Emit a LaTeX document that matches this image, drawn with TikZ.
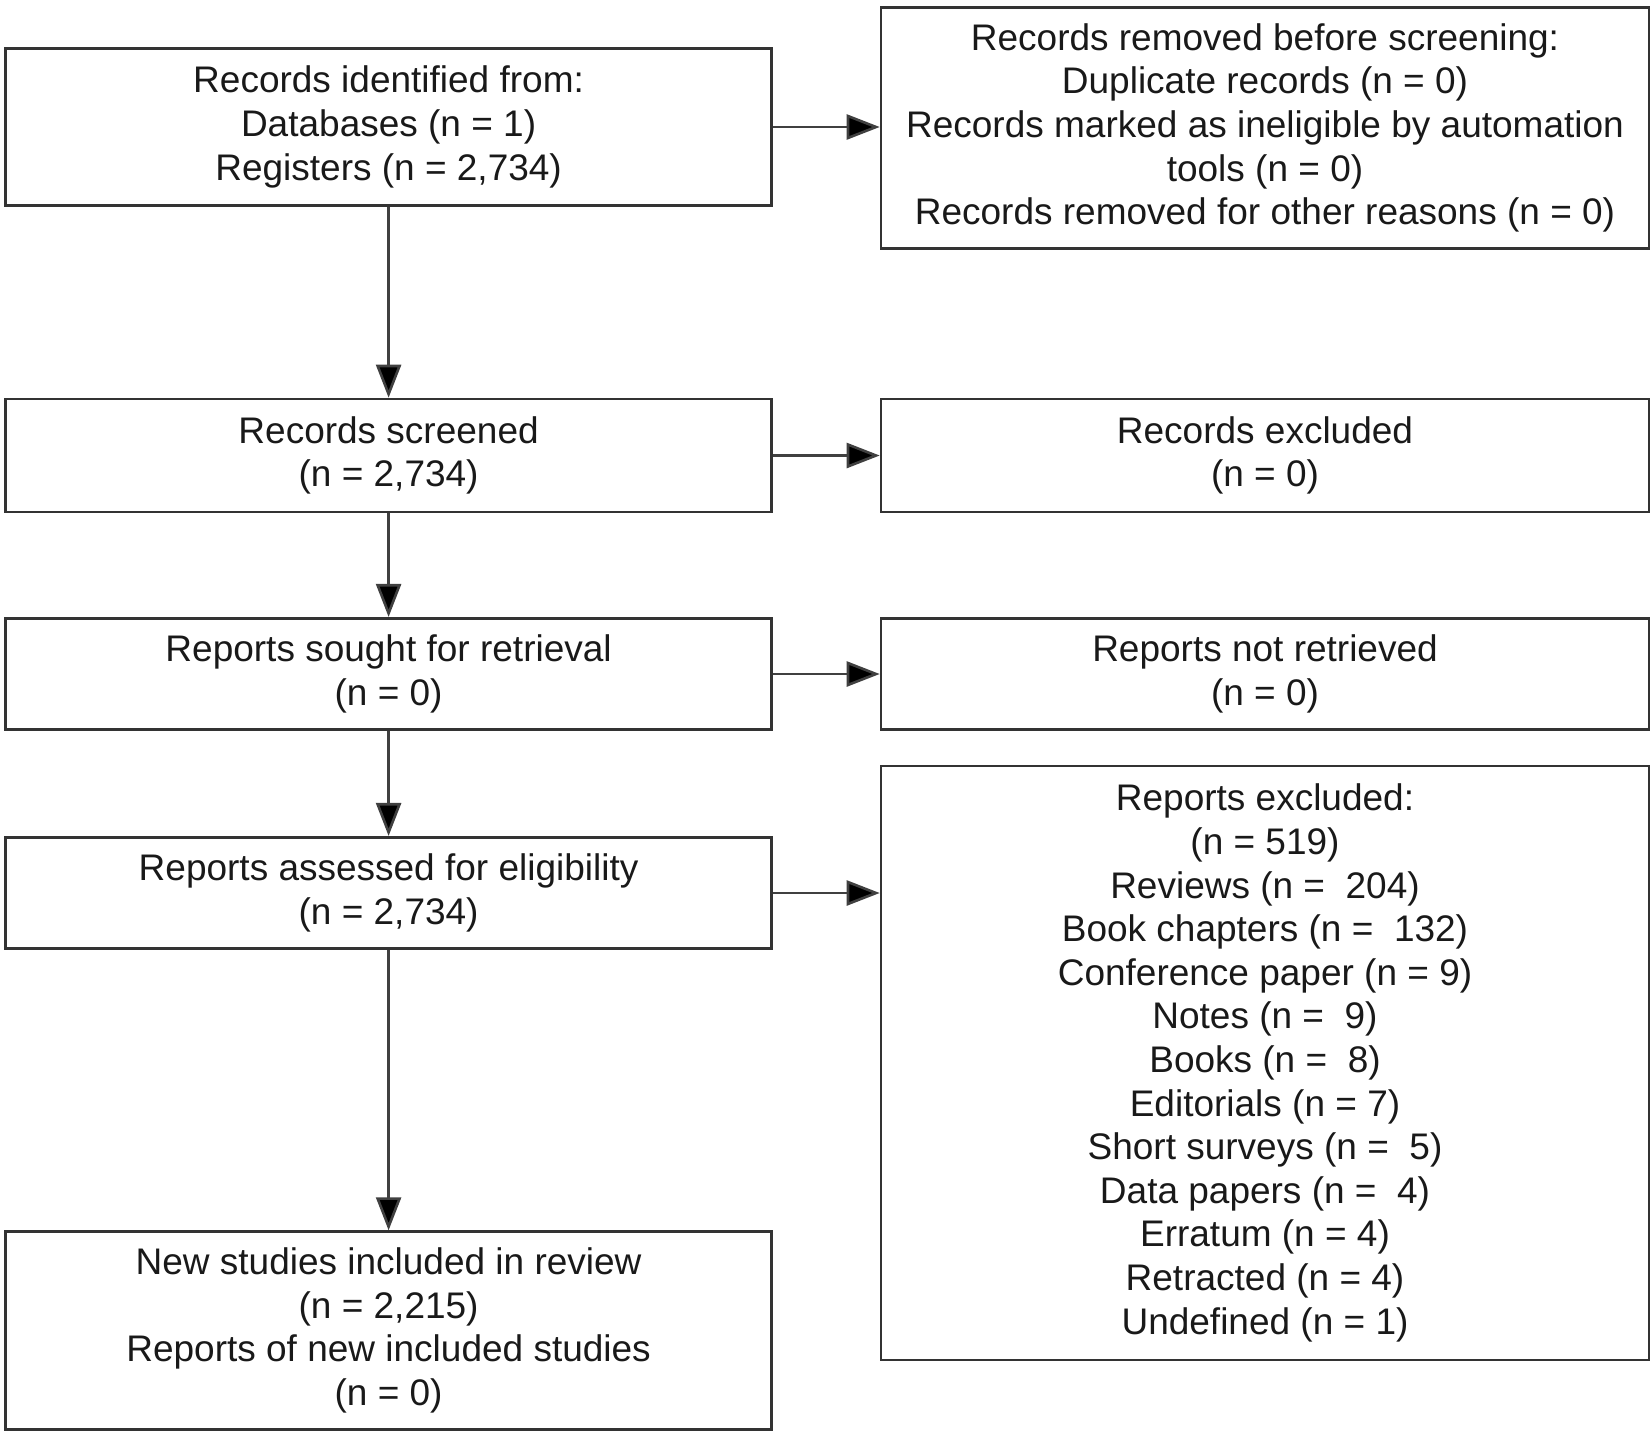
\documentclass[tikz,border=0pt]{standalone}
\usepackage{fontspec}
\setmainfont{Liberation Sans}
\usetikzlibrary{arrows.meta}
\begin{document}
\begin{tikzpicture}[x=1pt,y=-1pt,
  box/.style={draw=black!80, line width=2.6pt, rectangle, inner sep=0pt, align=center,
    font=\fontsize{37}{43.6}\selectfont, text=black!90},
  lbox/.style={box, minimum width=766pt},
  rbox/.style={box, minimum width=768pt},
  arr/.style={draw=black!75, line width=2.6pt, -{Triangle[length=33pt,width=25pt,fill=black]}}]
\useasboundingbox (0,0) rectangle (1652,1436);
\node[lbox, minimum height=157pt] (b1) at (388.6,127) {Records identified from:\\Databases (n = 1)\\Registers (n = 2,734)};
\node[rbox, minimum height=241pt] (r1) at (1265,128) {Records removed before screening:\\Duplicate records (n = 0)\\Records marked as ineligible by automation\\tools (n = 0)\\Records removed for other reasons (n = 0)};
\node[lbox, minimum height=113pt] (b2) at (388.6,455.5) {Records screened\\(n = 2,734)};
\node[rbox, minimum height=113pt] (r2) at (1265,455.5) {Records excluded\\(n = 0)};
\node[lbox, minimum height=111.5pt] (b3) at (388.6,674) {Reports sought for retrieval\\(n = 0)};
\node[rbox, minimum height=111.5pt] (r3) at (1265,674) {Reports not retrieved\\(n = 0)};
\node[lbox, minimum height=111.5pt] (b4) at (388.6,893) {Reports assessed for eligibility\\(n = 2,734)};
\node[rbox, minimum height=594pt] (r4) at (1265,1063) {Reports excluded:\\(n = 519)\\Reviews (n = \ 204)\\Book chapters (n = \ 132)\\Conference paper (n = 9)\\Notes (n = \ 9)\\Books (n = \ 8)\\Editorials (n = 7)\\Short surveys (n = \ 5)\\Data papers (n = \ 4)\\Erratum (n = 4)\\Retracted (n = 4)\\Undefined (n = 1)};
\node[lbox, minimum height=198pt] (b5) at (388.6,1330.6) {New studies included in review\\(n = 2,215)\\Reports of new included studies\\(n = 0)};
\draw[arr] (b1.east) -- (b1.east -| r1.west);
\draw[arr] (b2.east) -- (b2.east -| r2.west);
\draw[arr] (b3.east) -- (b3.east -| r3.west);
\draw[arr] (b4.east) -- (b4.east -| r4.west);
\draw[arr] (b1.south) -- (b2.north);
\draw[arr] (b2.south) -- (b3.north);
\draw[arr] (b3.south) -- (b4.north);
\draw[arr] (b4.south) -- (b5.north);
\end{tikzpicture}
\end{document}
